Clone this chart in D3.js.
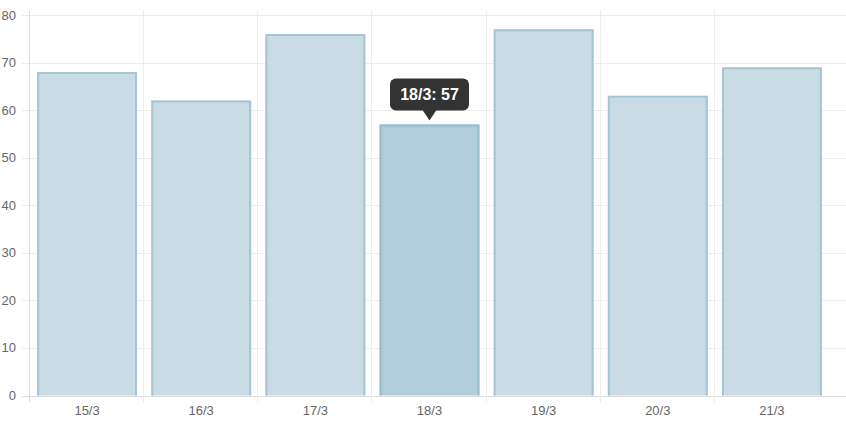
<!DOCTYPE html>
<html>
<head>
<meta charset="utf-8">
<script src="https://cdn.jsdelivr.net/npm/d3@7"></script>
<style>
  html, body { margin: 0; padding: 0; background: #fff; }
  svg { display: block; font-family: "Liberation Sans", Arial, Helvetica, sans-serif; }
</style>
</head>
<body>
<svg id="chart" width="846" height="422"></svg>
<script>
  // data
  var categories = ["15/3", "16/3", "17/3", "18/3", "19/3", "20/3", "21/3"];
  var values = [68, 62, 76, 57, 77, 63, 69];
  var yTicks = [0, 10, 20, 30, 40, 50, 60, 70, 80];
  var activeIndex = 3; // bar with the tooltip showing

  var width = 846, height = 422;
  // note: "top" is window.top, so use plot* names
  var plotLeft = 30, plotRight = 829, plotTop = 15, plotBottom = 395.5;

  var svg = d3.select("#chart");

  var x = d3.scaleBand().domain(categories).range([plotLeft, plotRight]).padding(0);
  var y = d3.scaleLinear().domain([0, 80]).range([plotBottom, plotTop]);

  var grid = svg.append("g").attr("class", "grid");

  // horizontal gridlines + y ticks
  grid.selectAll("line.h")
    .data(yTicks)
    .join("line")
    .attr("class", "h")
    .attr("x1", 22)
    .attr("x2", width)
    .attr("y1", function (d) { return Math.round(y(d)) + 0.5; })
    .attr("y2", function (d) { return Math.round(y(d)) + 0.5; })
    .attr("stroke", function (d) { return d === 0 ? "#dcdcdc" : "#ededed"; })
    .attr("stroke-width", 1);

  // vertical gridlines at band edges (last edge not drawn)
  var edges = categories.map(function (c) { return x(c); });
  grid.selectAll("line.v")
    .data(edges)
    .join("line")
    .attr("class", "v")
    .attr("x1", function (d) { return Math.round(d) - 0.5; })
    .attr("x2", function (d) { return Math.round(d) - 0.5; })
    .attr("y1", plotTop - 4)
    .attr("y2", plotBottom + 7)
    .attr("stroke", function (d, i) { return i === 0 ? "#dcdcdc" : "#ededed"; })
    .attr("stroke-width", 1);

  // y labels
  svg.append("g").selectAll("text")
    .data(yTicks)
    .join("text")
    .attr("x", 16)
    .attr("y", function (d) { return y(d); })
    .attr("dy", "0.35em")
    .attr("text-anchor", "end")
    .attr("font-size", "13px")
    .attr("fill", "#666")
    .text(function (d) { return d; });

  // x labels
  svg.append("g").selectAll("text")
    .data(categories)
    .join("text")
    .attr("x", function (d) { return x(d) + x.bandwidth() / 2; })
    .attr("y", 414.5)
    .attr("text-anchor", "middle")
    .attr("font-size", "13px")
    .attr("fill", "#666")
    .text(function (d) { return d; });

  // bars
  var barW = x.bandwidth() * 0.875;
  var bars = svg.append("g").attr("class", "bars")
    .selectAll("g")
    .data(values)
    .join("g");

  function barX(i) { return x(categories[i]) + (x.bandwidth() - barW) / 2; }

  bars.append("rect")
    .attr("x", function (d, i) { return barX(i); })
    .attr("y", function (d) { return y(d); })
    .attr("width", barW)
    .attr("height", function (d) { return plotBottom - y(d); })
    .attr("fill", function (d, i) { return i === activeIndex ? "#b1cddb" : "#c9dce6"; });

  // border on left, top, right (bottom skipped)
  bars.append("path")
    .attr("d", function (d, i) {
      var x0 = barX(i) + 1, x1 = barX(i) + barW - 1, yt = y(d) + 1;
      return "M" + x0 + "," + plotBottom + "V" + yt + "H" + x1 + "V" + plotBottom;
    })
    .attr("fill", "none")
    .attr("stroke", function (d, i) { return i === activeIndex ? "#97bccf" : "#a5c5d5"; })
    .attr("stroke-width", 2);

  // tooltip
  var tipCx = x(categories[activeIndex]) + x.bandwidth() / 2;
  var tipTip = y(values[activeIndex]) - 4;
  var tip = svg.append("g").attr("class", "tooltip");
  var boxW = 79, boxH = 32, caretH = 10, caretHalf = 7;
  var boxTop = tipTip - caretH - boxH;
  tip.append("rect")
    .attr("x", tipCx - boxW / 2)
    .attr("y", boxTop)
    .attr("width", boxW)
    .attr("height", boxH)
    .attr("rx", 6)
    .attr("fill", "#333");
  tip.append("path")
    .attr("d", "M" + (tipCx - caretHalf) + "," + (boxTop + boxH - 0.5) +
      "L" + tipCx + "," + tipTip +
      "L" + (tipCx + caretHalf) + "," + (boxTop + boxH - 0.5) + "Z")
    .attr("fill", "#333");
  tip.append("text")
    .attr("x", tipCx)
    .attr("y", boxTop + boxH / 2)
    .attr("dy", "0.36em")
    .attr("text-anchor", "middle")
    .attr("font-size", "16px")
    .attr("font-weight", "bold")
    .attr("fill", "#fff")
    .text(categories[activeIndex] + ": " + values[activeIndex]);
</script>
</body>
</html>
